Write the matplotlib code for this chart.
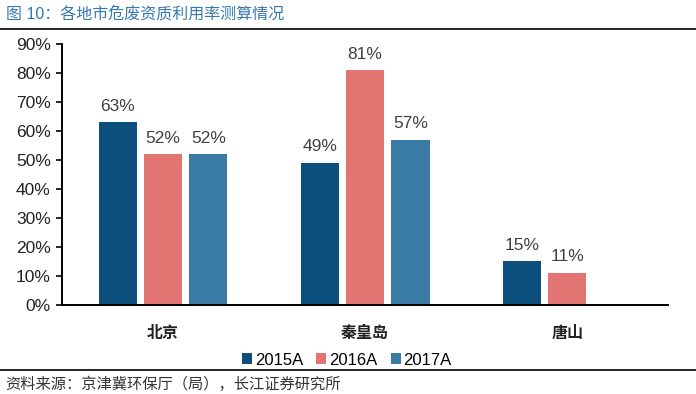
import matplotlib
matplotlib.use("Agg")
import matplotlib.pyplot as plt
import numpy as np

plt.rcParams["font.family"] = ["Liberation Sans", "Noto Sans CJK SC", "DejaVu Sans"]

# data
cities = ["北京", "秦皇岛", "唐山"]
years = ["2015A", "2016A", "2017A"]
v2015 = [0.63, 0.49, 0.15]
v2016 = [0.52, 0.81, 0.11]
v2017 = [0.52, 0.57, None]
yticks = [0, 0.1, 0.2, 0.3, 0.4, 0.5, 0.6, 0.7, 0.8, 0.9]

colors = ["#0C4E7C", "#E27472", "#3A7BA6"]

fig = plt.figure(figsize=(6.96, 3.94), dpi=100)
ax = fig.add_axes([0.089, 0.226, 0.871, 0.662])

x = np.arange(len(cities))
w = 0.19
off = 0.224
for i, (vals, c, lab) in enumerate(zip([v2015, v2016, v2017], colors, years)):
    xs = [xx + (i - 1) * off for xx, v in zip(x, vals) if v is not None]
    vs = [v for v in vals if v is not None]
    bars = ax.bar(xs, vs, width=w, color=c, label=lab)
    for b, v in zip(bars, vs):
        ax.text(b.get_x() + b.get_width() / 2, v + 0.03, f"{v*100:.0f}%",
                ha="center", va="bottom", fontsize=12.5, color="#404040")

ax.set_xlim(-0.5, 2.5)
ax.set_ylim(0, 0.9)
ax.set_yticks(yticks)
ax.set_yticklabels([f"{t*100:.0f}%" for t in yticks], fontsize=12.5, color="#222222")
ax.set_xticks(x)
ax.set_xticklabels(cities, fontsize=11.5, fontweight="bold", color="#222222")
ax.tick_params(axis="x", length=0, pad=15)
ax.tick_params(axis="y", direction="out", length=4, width=1.2, pad=4)
for s in ["top", "right"]:
    ax.spines[s].set_visible(False)
ax.spines["left"].set_linewidth(1.4)
ax.spines["bottom"].set_linewidth(1.4)

ax.legend(loc="upper center", bbox_to_anchor=(0.47, -0.125), ncol=3, frameon=False,
          fontsize=12, handlelength=0.6, handleheight=0.6, handletextpad=0.15,
          columnspacing=0.8)

fig.text(0.008, 0.965, "图 10：各地市危废资质利用率测算情况", fontsize=11.5,
         color="#3778B2", va="center", ha="left")
fig.add_artist(plt.Line2D([0, 1], [0.926, 0.926], color="black", lw=1.2))
fig.add_artist(plt.Line2D([0, 1], [0.06, 0.06], color="black", lw=1.2))
fig.text(0.008, 0.025, "资料来源：京津冀环保厅（局），长江证券研究所", fontsize=11,
         color="#333333", va="center", ha="left")

fig.savefig("out.png", dpi=100)
